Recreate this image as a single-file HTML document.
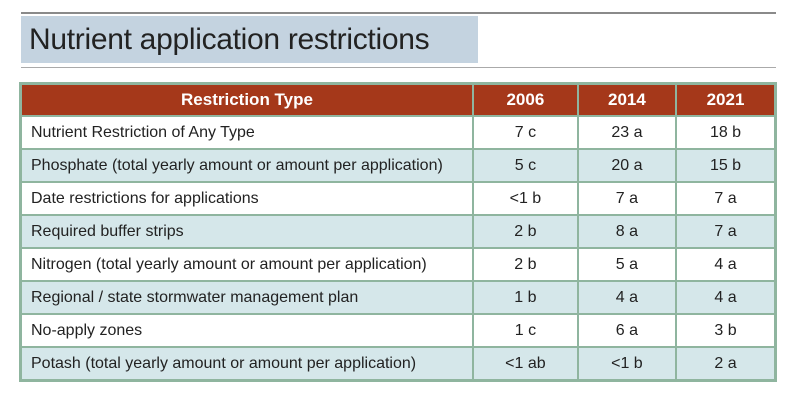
<!DOCTYPE html>
<html><head><meta charset="utf-8"><style>
body{margin:0;width:800px;height:401px;background:#fff;position:relative;overflow:hidden;font-family:"Liberation Sans",sans-serif}
.rule{position:absolute;left:21px;width:755px;height:2px;background:#8a8a8a}
#title{position:absolute;left:21px;top:16px;width:457px;height:47px;background:#c4d3e0;font-size:30px;color:#222;line-height:47px;padding-left:8px;box-sizing:border-box;letter-spacing:-0.3px}
table{position:absolute;left:19px;top:82px;width:758px;border-collapse:collapse;border:3px solid #8fb59f}
td,th{border:2px solid #8fb59f;height:31px;padding:0;font-size:16px;color:#222}
th{background:#a5381a;color:#fff;font-weight:bold;font-size:17px;height:30px}
td{text-align:center}
td.l{text-align:left;padding-left:9px}
tr.b td{background:#d5e7ea}
</style></head><body>
<div class="rule" style="top:12px"></div>
<div id="title">Nutrient application restrictions</div>
<div class="rule" style="top:67px;height:1px;background:#aaa"></div>
<table>
<tr><th style="width:450px">Restriction Type</th><th>2006</th><th>2014</th><th>2021</th></tr>
<tr><td class="l">Nutrient Restriction of Any Type</td><td>7 c</td><td>23 a</td><td>18 b</td></tr>
<tr class="b"><td class="l">Phosphate (total yearly amount or amount per application)</td><td>5 c</td><td>20 a</td><td>15 b</td></tr>
<tr><td class="l">Date restrictions for applications</td><td>&lt;1 b</td><td>7 a</td><td>7 a</td></tr>
<tr class="b"><td class="l">Required buffer strips</td><td>2 b</td><td>8 a</td><td>7 a</td></tr>
<tr><td class="l">Nitrogen (total yearly amount or amount per application)</td><td>2 b</td><td>5 a</td><td>4 a</td></tr>
<tr class="b"><td class="l">Regional / state stormwater management plan</td><td>1 b</td><td>4 a</td><td>4 a</td></tr>
<tr><td class="l">No-apply zones</td><td>1 c</td><td>6 a</td><td>3 b</td></tr>
<tr class="b"><td class="l">Potash (total yearly amount or amount per application)</td><td>&lt;1 ab</td><td>&lt;1 b</td><td>2 a</td></tr>
</table>
</body></html>
